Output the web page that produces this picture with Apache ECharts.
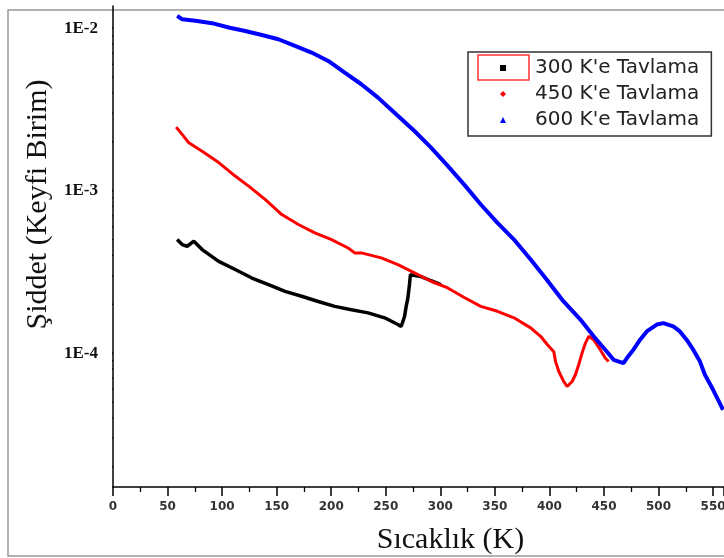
<!DOCTYPE html>
<html>
<head>
<meta charset="utf-8">
<title>Şiddet - Sıcaklık</title>
<script src="https://cdn.jsdelivr.net/npm/echarts@6/dist/echarts.min.js"></script>
<style>html,body{margin:0;padding:0;background:#fff;}</style>
</head>
<body>
<div id="chart" style="width:724px;height:558px;"></div>
<script>
// values, temperature (K) and intensity (arb. unit)
const t300 = [58.8, 63.4, 68, 74.1, 81.7, 96.9, 112, 127.3, 142.5, 157.7, 172.9, 188.1, 203.3, 218.5, 233.8, 248.9, 261.1, 264.1, 267.2, 268.7, 270.3, 271.7, 272.6, 282.4, 291.5, 300.6];
const i300 = [5.0e-4, 4.66e-4, 4.55e-4, 4.89e-4, 4.34e-4, 3.67e-4, 3.27e-4, 2.90e-4, 2.64e-4, 2.40e-4, 2.24e-4, 2.08e-4, 1.94e-4, 1.85e-4, 1.77e-4, 1.65e-4, 1.50e-4, 1.46e-4, 1.68e-4, 1.94e-4, 2.19e-4, 2.64e-4, 3.04e-4, 2.96e-4, 2.79e-4, 2.64e-4];

const t450 = [57.9, 63.4, 69.5, 81.7, 96.9, 112, 124.3, 139.4, 154.7, 169.9, 185, 200.3, 215.5, 221.5, 227.6, 245.9, 261.1, 276.3, 291.5, 306.8, 321.9, 337.1, 352.4, 367.5, 382.8, 391.9, 398, 404, 405.6, 408.6, 413.1, 416.2, 420.8, 423.8, 426.8, 429.9, 432.9, 436, 440.5, 446.6, 451.2, 454.2];
const i450 = [2.46e-3, 2.22e-3, 1.97e-3, 1.75e-3, 1.49e-3, 1.23e-3, 1.066e-3, 8.83e-4, 7.13e-4, 6.19e-4, 5.50e-4, 5.0e-4, 4.44e-4, 4.14e-4, 4.14e-4, 3.86e-4, 3.51e-4, 3.12e-4, 2.77e-4, 2.52e-4, 2.2e-4, 1.94e-4, 1.81e-4, 1.65e-4, 1.43e-4, 1.27e-4, 1.13e-4, 1.02e-4, 8.89e-5, 7.71e-5, 6.69e-5, 6.23e-5, 6.69e-5, 7.36e-5, 8.48e-5, 1.0e-4, 1.15e-4, 1.27e-4, 1.21e-4, 1.05e-4, 9.33e-5, 8.89e-5];

const t600 = [58.8, 63.4, 75.5, 90.8, 106, 121.2, 136.4, 151.6, 166.8, 182, 197.3, 212.4, 227.6, 242.9, 258, 276.3, 291.5, 306.8, 321.9, 337.1, 352.4, 367.5, 382.8, 397.4, 411.7, 428.4, 440.5, 452.7, 458.8, 467.9, 471, 477, 483.1, 489.2, 498.4, 504.4, 513.5, 519.6, 525.7, 531.8, 537.9, 542.5, 550, 556.1, 559.1];
const i600 = [1.19e-2, 1.135e-2, 1.11e-2, 1.074e-2, 1.01e-2, 9.62e-3, 9.09e-3, 8.55e-3, 7.78e-3, 7.08e-3, 6.29e-3, 5.33e-3, 4.52e-3, 3.74e-3, 3.02e-3, 2.33e-3, 1.84e-3, 1.42e-3, 1.09e-3, 8.22e-4, 6.34e-4, 5.0e-4, 3.77e-4, 2.84e-4, 2.13e-4, 1.61e-4, 1.27e-4, 1.02e-4, 9.1e-5, 8.69e-5, 9.33e-5, 1.05e-4, 1.21e-4, 1.36e-4, 1.50e-4, 1.53e-4, 1.46e-4, 1.36e-4, 1.21e-4, 1.05e-4, 8.9e-5, 7.36e-5, 5.95e-5, 4.92e-5, 4.48e-5];

const names = ["300 K'e Tavlama", "450 K'e Tavlama", "600 K'e Tavlama"];
const majorY = [1e-4, 1e-3, 1e-2];
const minorY = [2e-5, 3e-5, 4e-5, 5e-5, 6e-5, 7e-5, 8e-5, 9e-5,
                2e-4, 3e-4, 4e-4, 5e-4, 6e-4, 7e-4, 8e-4, 9e-4,
                2e-3, 3e-3, 4e-3, 5e-3, 6e-3, 7e-3, 8e-3, 9e-3];

const X_MAX = 560;
const GRID_LEFT = 113;
const PX_PER_K = (724 - GRID_LEFT) / X_MAX;

function zip(xs, ys) {
  return xs.map((x, i) => [x, ys[i]]);
}

// y ticks of the log axis: short unclipped line segments left of x = 0
function tickSeries(values, lenPx, width) {
  const len = lenPx / PX_PER_K;
  return values.map(v => ({
    type: 'line',
    silent: true,
    clip: false,
    symbol: 'none',
    z: 6,
    lineStyle: { color: '#000', width: width },
    emphasis: { disabled: true },
    data: [[-len, v], [0, v]]
  }));
}

const chart = echarts.init(document.getElementById('chart'));

chart.setOption({
  animation: false,
  backgroundColor: '#fff',
  grid: { left: GRID_LEFT, right: 0, top: 6, bottom: 71, containLabel: false, outerBoundsMode: 'none' },
  legend: {
    orient: 'vertical',
    left: 468,
    top: 52,
    padding: [6, 12, 6, 32],
    itemGap: 6,
    itemWidth: 6,
    itemHeight: 6,
    borderColor: '#333',
    borderWidth: 1.5,
    backgroundColor: '#fff',
    selectedMode: false,
    textStyle: {
      fontFamily: 'DejaVu Sans',
      fontSize: 20,
      lineHeight: 20,
      color: '#222',
      padding: [0, 0, 0, 24]
    },
    data: [
      { name: names[0], icon: 'rect' },
      { name: names[1], icon: 'diamond' },
      { name: names[2], icon: 'triangle' }
    ]
  },
  xAxis: {
    type: 'value',
    min: 0,
    max: X_MAX,
    interval: 50,
    name: 'Sıcaklık (K)',
    nameLocation: 'middle',
    nameGap: 35,
    nameTextStyle: {
      fontFamily: 'Liberation Serif',
      fontSize: 30,
      lineHeight: 36,
      color: '#111',
      padding: [0, 0, 0, 64]
    },
    axisLine: { lineStyle: { color: '#000', width: 1.5 } },
    axisTick: { length: 9, lineStyle: { color: '#000', width: 1.5 } },
    minorTick: { show: true, splitNumber: 2, length: 5, lineStyle: { color: '#000', width: 1.3 } },
    axisLabel: {
      margin: 14,
      showMaxLabel: false,
      fontFamily: 'DejaVu Sans',
      fontWeight: 'bold',
      fontSize: 12,
      color: '#333'
    },
    splitLine: { show: false }
  },
  yAxis: {
    type: 'log',
    logBase: 10,
    min: 1.5e-5,
    max: 0.0137,
    position: 'left',
    name: 'Şiddet (Keyfi Birim)',
    nameLocation: 'middle',
    nameGap: 58,
    nameTextStyle: {
      fontFamily: 'Liberation Serif',
      fontSize: 30,
      color: '#111',
      padding: [0, 0, 0, 84]
    },
    axisLine: { show: true, lineStyle: { color: '#000', width: 1.5 } },
    axisTick: { show: false },
    axisLabel: {
      customValues: majorY,
      margin: 15,
      fontFamily: 'Liberation Serif',
      fontWeight: 'bold',
      fontSize: 17,
      color: '#111',
      formatter: v => '1E' + Math.round(Math.log10(v))
    },
    splitLine: { show: false }
  },
  graphic: [
    {
      type: 'rect',
      silent: true,
      z: -1,
      shape: { x: 8, y: 10, width: 740, height: 546 },
      style: { fill: 'none', stroke: '#999', lineWidth: 1.5 }
    },
    {
      type: 'rect',
      silent: true,
      z: 100,
      shape: { x: 478, y: 55, width: 51, height: 25 },
      style: { fill: 'none', stroke: '#f33', lineWidth: 1.5 }
    }
  ],
  series: [
    {
      name: names[0],
      type: 'line',
      data: zip(t300, i300),
      showSymbol: false,
      color: '#000',
      lineStyle: { color: '#000', width: 3.5 },
      z: 3
    },
    {
      name: names[1],
      type: 'line',
      data: zip(t450, i450),
      showSymbol: false,
      color: '#ff0000',
      lineStyle: { color: '#ff0000', width: 3 },
      z: 4
    },
    {
      name: names[2],
      type: 'line',
      data: zip(t600, i600),
      showSymbol: false,
      color: '#0000ff',
      lineStyle: { color: '#0000ff', width: 4 },
      z: 5
    }
  ].concat(tickSeries(majorY, 9, 1.5), tickSeries(minorY, 5, 1.3))
});
</script>
</body>
</html>
